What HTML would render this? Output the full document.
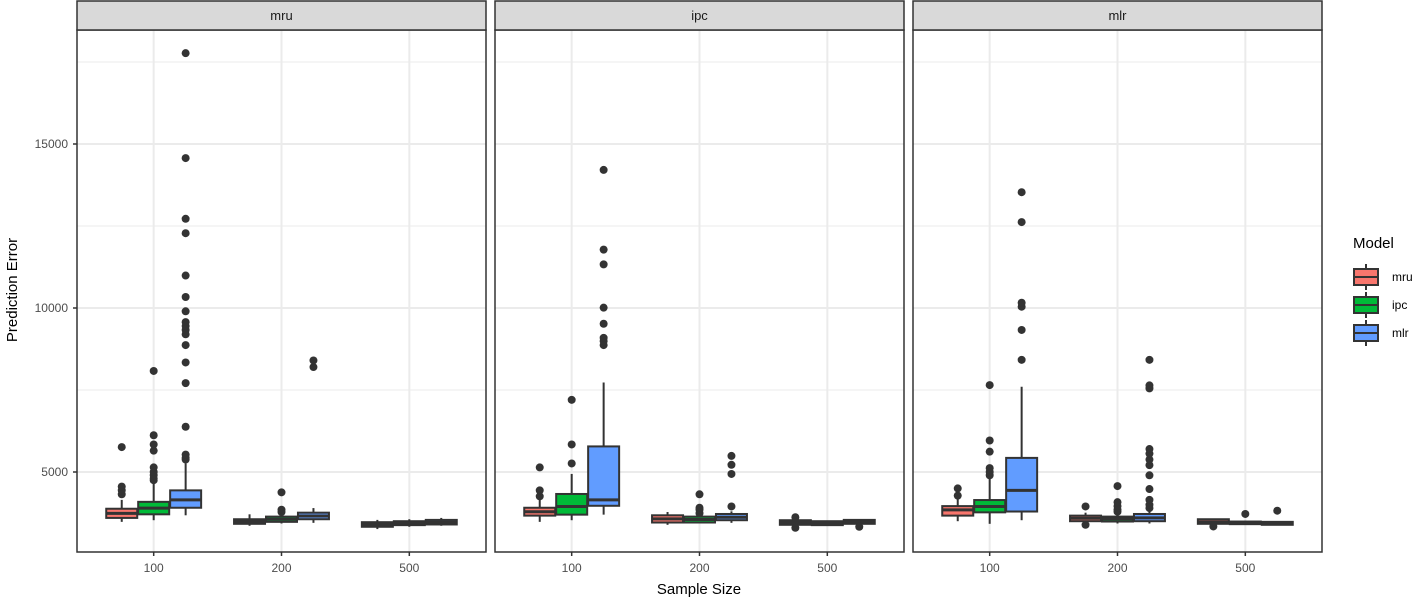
<!DOCTYPE html>
<html><head><meta charset="utf-8"><style>
body{margin:0;background:#fff;}
svg{display:block;font-family:"Liberation Sans",Arial,sans-serif;}
</style></head><body>
<svg id="chart" width="1417" height="600" xmlns="http://www.w3.org/2000/svg"></svg>
<script>
// ---- data ----
const facets = ["mru","ipc","mlr"];
const models = ["mru","ipc","mlr"];
const sizes = ["100","200","500"];
const yTicks = [5000,10000,15000];
const yMinor = [7500,12500,17500];
const colors = ["#F8766D","#00BA38","#619CFF"];
// stats per facet: [size][model] = [lowWhisker, q1, median, q3, highWhisker]
const statsMru = [
  [[3480,3600,3740,3880,4150],[3530,3710,3900,4090,4730],[3680,3910,4150,4440,5260]],
  [[3360,3420,3490,3560,3710],[3430,3480,3560,3640,3750],[3450,3560,3660,3760,3900]],
  [[3260,3330,3400,3470,3540],[3330,3380,3440,3500,3560],[3360,3400,3470,3540,3600]]
];
const statsIpc = [
  [[3480,3670,3790,3910,4200],[3530,3700,3950,4330,4940],[3700,3970,4150,5780,7730]],
  [[3390,3460,3570,3680,3780],[3430,3460,3550,3640,3740],[3450,3530,3620,3720,3800]],
  [[3300,3390,3460,3530,3620],[3370,3380,3430,3500,3520],[3330,3420,3480,3540,3560]]
];
const statsMlr = [
  [[3500,3670,3845,3960,4200],[3420,3770,3950,4145,4790],[3530,3795,4440,5430,7600]],
  [[3450,3500,3590,3670,3760],[3430,3490,3570,3640,3720],[3430,3500,3600,3720,3960]],
  [[3340,3420,3480,3560,3560],[3400,3410,3440,3490,3520],[3380,3390,3430,3480,3500]]
];
const outMru = [
  [[4320,4440,4555,5760],[4750,4800,4900,5000,5140,5650,5840,6120,8080],[5380,5430,5530,6380,7710,8340,8870,9200,9330,9450,9570,9900,10335,10990,12280,12720,14570,17770]],
  [[],[3780,3850,4380],[8200,8400]],
  [[],[],[]]
];
const outIpc = [
  [[4260,4440,5140],[5260,5840,7200],[8870,8990,9090,9520,10010,11330,11780,14210]],
  [[],[3740,3850,3910,4320],[3950,4940,5220,5490]],
  [[3300,3620],[],[3330]]
];
const outMlr = [
  [[4280,4500],[4900,5000,5120,5620,5960,7650],[8420,9330,10040,10160,12620,13530]],
  [[3390,3950],[3790,3850,3960,4080,4570],[3900,4000,4150,4480,4900,5210,5380,5560,5700,7550,7640,8420]],
  [[3340],[3720],[3820]]
];
const allStats = [statsMru, statsIpc, statsMlr];
const allOut = [outMru, outIpc, outMlr];

// ---- layout ----
const NS = "http://www.w3.org/2000/svg";
const svg = document.getElementById("chart");
const panelLefts = [77, 495, 913];
const panelW = 409, plotTop = 30, plotBottom = 552;
function y(v){ return 472 - (v - 5000) * 0.0328; }
function xCat(p, i){ return panelLefts[p] + (i + 1 - 0.4) / 3.2 * panelW; }
const dodge = 0.25 / 3.2 * panelW;
function mk(tag, attrs, parent){
  const e = document.createElementNS(NS, tag);
  for (const k in attrs) e.setAttribute(k, attrs[k]);
  (parent || svg).appendChild(e);
  return e;
}

facets.forEach((f, p) => {
  const L = panelLefts[p];
  const g = mk("g", {});
  
  
  mk("rect", {x:L, y:plotTop, width:panelW, height:plotBottom-plotTop, fill:"#fff"}, g);
  yMinor.forEach(v => mk("line", {x1:L, x2:L+panelW, y1:y(v), y2:y(v), stroke:"#ebebeb", "stroke-width":1}, g));
  yTicks.forEach(v => mk("line", {x1:L, x2:L+panelW, y1:y(v), y2:y(v), stroke:"#ebebeb", "stroke-width":2}, g));
  sizes.forEach((s, i) => mk("line", {x1:xCat(p,i), x2:xCat(p,i), y1:plotTop, y2:plotBottom, stroke:"#ebebeb", "stroke-width":2}, g));
  sizes.forEach((s, i) => {
    models.forEach((m, j) => {
      const st = allStats[p][i][j];
      const cx = xCat(p, i) + (j - 1) * dodge;
      const bw = dodge * 0.97;
      const bg = mk("g", {}, g);
      
      
      mk("line", {x1:cx, x2:cx, y1:y(st[4]), y2:y(st[3]), stroke:"#333", "stroke-width":2}, bg);
      mk("line", {x1:cx, x2:cx, y1:y(st[1]), y2:y(st[0]), stroke:"#333", "stroke-width":2}, bg);
      mk("rect", {x:cx-bw/2, y:y(st[3]), width:bw, height:Math.max(0.5, y(st[1])-y(st[3])), fill:colors[j], stroke:"#333", "stroke-width":2}, bg);
      mk("line", {x1:cx-bw/2, x2:cx+bw/2, y1:y(st[2]), y2:y(st[2]), stroke:"#333", "stroke-width":3}, bg);
      allOut[p][i][j].forEach(v => {
        const c = mk("circle", {cx:cx, cy:y(v), r:4, fill:"#333"}, bg);
        
        
      });
    });
    const t = mk("text", {x:xCat(p,i), y:572, "text-anchor":"middle", "font-size":12, fill:"#4d4d4d"}, g);
    t.textContent = s;
    
    
    mk("line", {x1:xCat(p,i), x2:xCat(p,i), y1:plotBottom, y2:plotBottom+4, stroke:"#333", "stroke-width":1.5}, g);
  });
  mk("rect", {x:L, y:plotTop, width:panelW, height:plotBottom-plotTop, fill:"none", stroke:"#333", "stroke-width":1.5}, g);
  const sr = mk("rect", {x:L, y:1, width:panelW, height:plotTop-1, fill:"#d9d9d9", stroke:"#333", "stroke-width":1.5}, g);
  
  
  const stx = mk("text", {x:L+panelW/2, y:20, "text-anchor":"middle", "font-size":13, fill:"#1a1a1a"}, g);
  stx.textContent = f;
  
  
});

yTicks.forEach(v => {
  const t = mk("text", {x:68, y:y(v)+4, "text-anchor":"end", "font-size":12, fill:"#4d4d4d"});
  t.textContent = v;
  
  
  mk("line", {x1:73, x2:77, y1:y(v), y2:y(v), stroke:"#333", "stroke-width":1.5});
});
const yt = mk("text", {x:0, y:0, transform:"translate(17,290) rotate(-90)", "text-anchor":"middle", "font-size":15, fill:"#000"});
yt.textContent = "Prediction Error";


const xt = mk("text", {x:699, y:594, "text-anchor":"middle", "font-size":15, fill:"#000"});
xt.textContent = "Sample Size";



const lg = mk("g", {});


const lt = mk("text", {x:1353, y:248, "font-size":15, fill:"#000"}, lg);
lt.textContent = "Model";


models.forEach((m, j) => {
  const cy = 277 + j * 28;
  const e = mk("g", {}, lg);
  
  
  mk("line", {x1:1366, x2:1366, y1:cy-13, y2:cy+13, stroke:"#333", "stroke-width":2}, e);
  mk("rect", {x:1354, y:cy-8, width:24, height:16, fill:colors[j], stroke:"#333", "stroke-width":2}, e);
  mk("line", {x1:1354, x2:1378, y1:cy, y2:cy, stroke:"#333", "stroke-width":2}, e);
  const t = mk("text", {x:1392, y:cy+4, "font-size":12, fill:"#000"}, e);
  t.textContent = m;
});
</script>
</body></html>
